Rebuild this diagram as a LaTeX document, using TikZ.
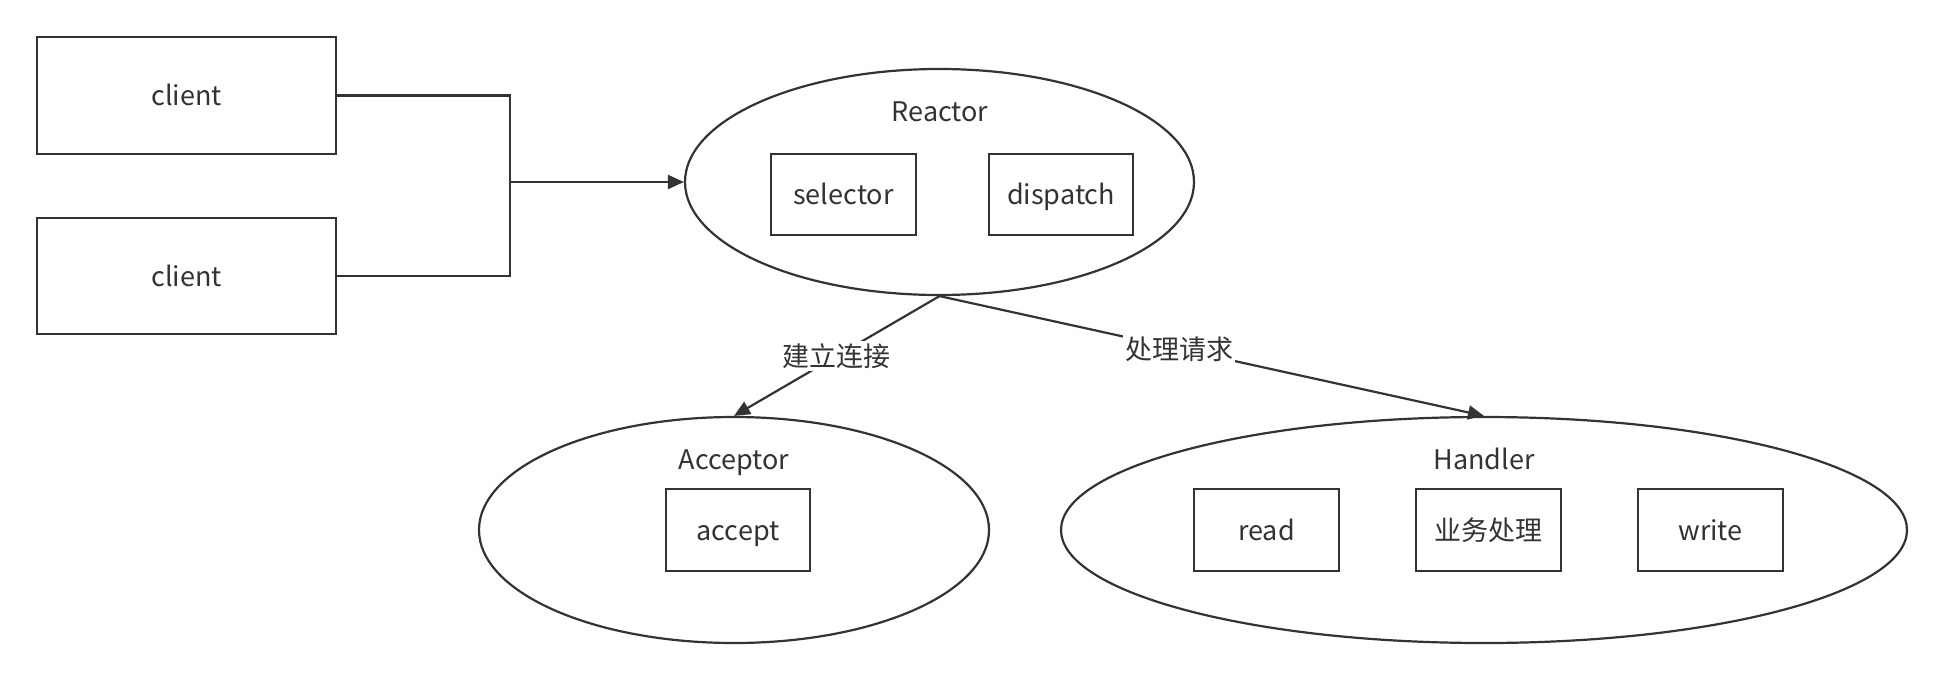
\documentclass[tikz,border=0pt]{standalone}
\usepackage{fontspec}
\setmainfont{Noto Sans CJK SC}
\usetikzlibrary{shapes.geometric,arrows.meta}
\definecolor{ink}{HTML}{333333}
\begin{document}
\begin{tikzpicture}[x=0.5pt,y=-0.5pt,
  every node/.style={font=\fontsize{13.5}{16}\selectfont, text=ink, text height=11.7pt, text depth=1.3pt},
  box/.style={draw=ink, line width=1.1pt, rectangle, inner sep=0pt},
  oval/.style={draw=ink, line width=1.1pt, ellipse, inner sep=0pt},
  conn/.style={draw=ink, line width=1.1pt},
  arr/.style={conn, -{Triangle[length=8pt,width=7pt]}},
  elabel/.style={fill=white, inner sep=1pt}]
\useasboundingbox (0,0) rectangle (1946,680);
% clients
\node[box, minimum width=149.5pt, minimum height=58.5pt] (c1) at (186.5,95.5) {client};
\node[box, minimum width=149.5pt, minimum height=58pt] (c2) at (186.5,276) {client};
% ellipses
\node[oval, minimum width=254.5pt, minimum height=113pt] (reactor) at (939.5,182) {};
\node[oval, minimum width=255pt, minimum height=113pt] (acceptor) at (734,530) {};
\node[oval, minimum width=423pt, minimum height=113pt] (handler) at (1484,530) {};
% titles
\node (rt) at (940,111) {Reactor};
\node (at) at (734,459) {Acceptor};
\node (ht) at (1484,459) {Handler};
% inner boxes
\node[box, minimum width=72.5pt, minimum height=40.5pt] (sel) at (843.5,194.5) {selector};
\node[box, minimum width=72pt, minimum height=40.5pt] (dis) at (1061,194.5) {dispatch};
\node[box, minimum width=72pt, minimum height=41pt] (acc) at (738,530) {accept};
\node[box, minimum width=72.5pt, minimum height=41pt] (rd) at (1266.5,530) {read};
\node[box, minimum width=72.5pt, minimum height=41pt] (biz) at (1488.5,530) {业务处理};
\node[box, minimum width=72.5pt, minimum height=41pt] (wr) at (1710.5,530) {write};
% connectors
\coordinate (j) at (510,182);
\draw[conn] (c1.east) -| (j);
\draw[conn] (c2.east) -| (j);
\draw[arr] (j) -- (reactor.west);
\draw[arr] (reactor.south) -- node[elabel, pos=0.5] (l1) {建立连接} (acceptor.north);
\draw[arr] (reactor.south) -- node[elabel, pos=0.44] (l2) {处理请求} (handler.north);
\end{tikzpicture}
\end{document}
